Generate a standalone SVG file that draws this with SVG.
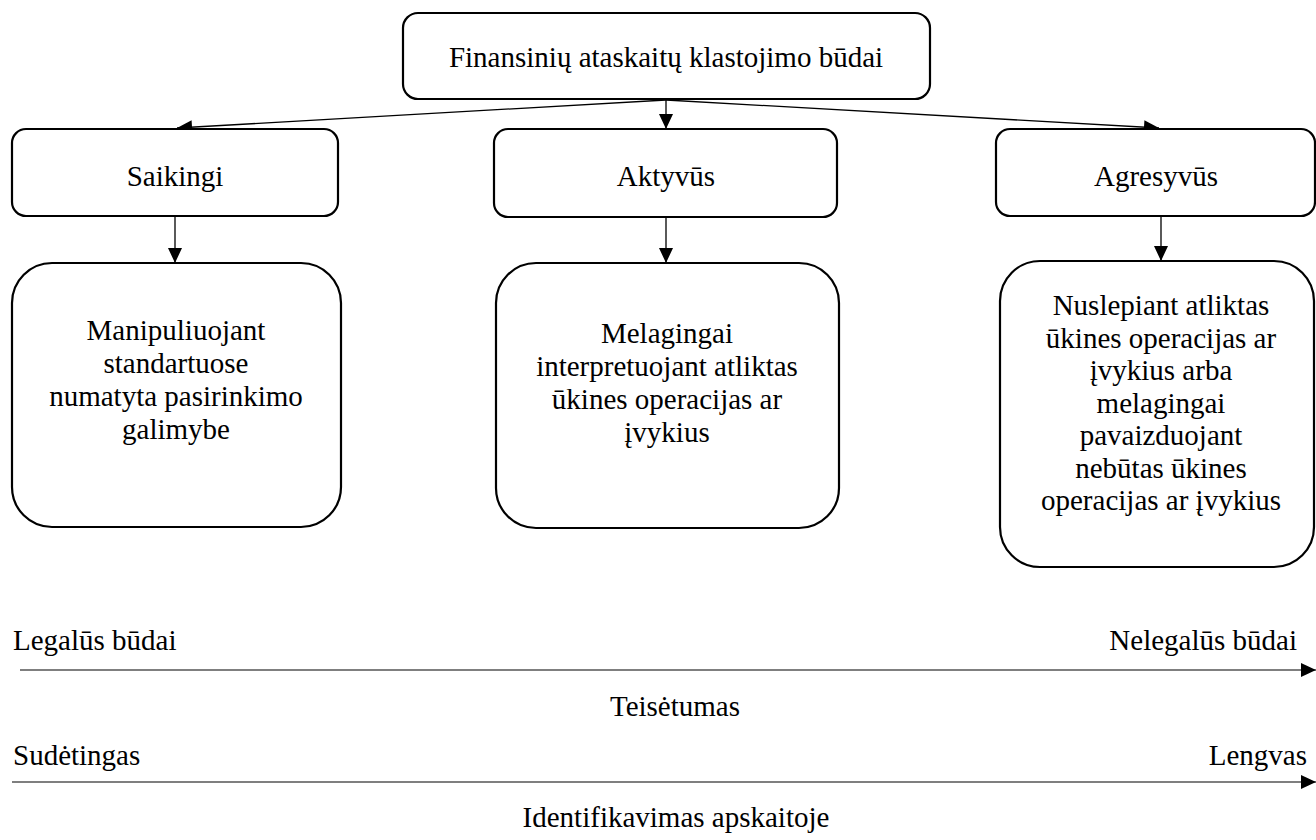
<svg xmlns="http://www.w3.org/2000/svg" width="1316" height="840" viewBox="0 0 1316 840">
<defs>
<style>
.box{fill:#fff;stroke:#000;stroke-width:2.2}
.t{font-family:"Liberation Serif","Times New Roman",serif;font-size:29px;fill:#000}
.c{text-anchor:middle}
.e{text-anchor:end}
.con{stroke:#000;stroke-width:1.3;fill:none}
.axis{stroke:#555;stroke-width:1.6;fill:none}
</style>
<marker id="ah" markerUnits="userSpaceOnUse" markerWidth="16" markerHeight="15" refX="15" refY="7" orient="auto">
<path d="M0,0 L15,7 L0,14 z" fill="#000"/>
</marker>
</defs>
<rect width="1316" height="840" fill="#fff"/>

<g id="connectors">
<line class="con" x1="666" y1="100" x2="177" y2="128" marker-end="url(#ah)"/>
<line class="con" x1="666" y1="100" x2="1159" y2="128" marker-end="url(#ah)"/>
<line class="con" x1="666" y1="100" x2="666" y2="129" marker-end="url(#ah)"/>
<line class="con" x1="175" y1="216" x2="175" y2="263" marker-end="url(#ah)"/>
<line class="con" x1="666" y1="217" x2="666" y2="263" marker-end="url(#ah)"/>
<line class="con" x1="1161" y1="216" x2="1161" y2="261" marker-end="url(#ah)"/>
<line class="axis" x1="20" y1="670" x2="1316" y2="670" marker-end="url(#ah)"/>
<line class="axis" x1="12" y1="782" x2="1316" y2="782" marker-end="url(#ah)"/>
</g>

<g id="root">
<rect class="box" x="403" y="13" width="527" height="86" rx="15"/>
<text class="t c" x="666" y="67">Finansinių ataskaitų klastojimo būdai</text>
</g>

<g id="saikingi">
<rect class="box" x="12" y="129" width="326" height="87" rx="14"/>
<text class="t c" x="175" y="186">Saikingi</text>
</g>
<g id="aktyvus">
<rect class="box" x="494" y="129" width="343" height="88" rx="14"/>
<text class="t c" x="666" y="186">Aktyvūs</text>
</g>
<g id="agresyvus">
<rect class="box" x="996" y="129" width="319" height="87" rx="14"/>
<text class="t c" x="1156" y="186">Agresyvūs</text>
</g>

<g id="saikingi-desc">
<rect class="box" x="12" y="263" width="329" height="264" rx="40"/>
<text class="t c" x="176" y="340">Manipuliuojant</text>
<text class="t c" x="176" y="373">standartuose</text>
<text class="t c" x="176" y="406">numatyta pasirinkimo</text>
<text class="t c" x="176" y="439">galimybe</text>
</g>
<g id="aktyvus-desc">
<rect class="box" x="496" y="263" width="343" height="265" rx="40"/>
<text class="t c" x="667" y="343">Melagingai</text>
<text class="t c" x="667" y="376">interpretuojant atliktas</text>
<text class="t c" x="667" y="409">ūkines operacijas ar</text>
<text class="t c" x="667" y="442">įvykius</text>
</g>
<g id="agresyvus-desc">
<rect class="box" x="1000" y="261" width="314" height="306" rx="40"/>
<text class="t c" x="1161" y="315">Nuslepiant atliktas</text>
<text class="t c" x="1161" y="347.5">ūkines operacijas ar</text>
<text class="t c" x="1161" y="380">įvykius arba</text>
<text class="t c" x="1161" y="412.5">melagingai</text>
<text class="t c" x="1161" y="445">pavaizduojant</text>
<text class="t c" x="1161" y="477.5">nebūtas ūkines</text>
<text class="t c" x="1161" y="510">operacijas ar įvykius</text>
</g>

<g id="scale-legality">
<text class="t" x="13" y="650">Legalūs būdai</text>
<text class="t e" x="1297" y="650">Nelegalūs būdai</text>
<text class="t c" x="675" y="716">Teisėtumas</text>
</g>
<g id="scale-identification">
<text class="t" x="13" y="765">Sudėtingas</text>
<text class="t e" x="1307" y="765">Lengvas</text>
<text class="t c" x="676" y="827">Identifikavimas apskaitoje</text>
</g>
</svg>
